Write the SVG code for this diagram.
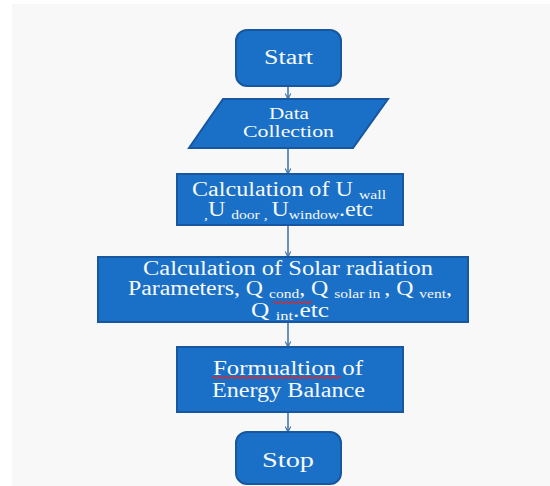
<svg xmlns="http://www.w3.org/2000/svg" width="550" height="486" viewBox="0 0 550 486">
<style>
.n{fill:#1a6fc6;stroke:#1657a0;stroke-width:2}
.t{font-family:"Liberation Serif",serif;font-size:20px;fill:#f6f9fd;text-anchor:middle}
.s{font-size:13px}
.c line{stroke:#3b6ea8;stroke-width:1.5;marker-end:url(#ah)}
.w{fill:none;stroke:#e02828;stroke-width:1.2}
</style>
<defs>
<marker id="ah" viewBox="0 0 10 10" refX="9" refY="5" markerWidth="7" markerHeight="7" orient="auto" markerUnits="userSpaceOnUse">
<path d="M1,1 L9,5 L1,9" fill="none" stroke="#3b6ea8" stroke-width="1.5"/>
</marker>
</defs>
<rect x="12" y="4" width="538" height="482" fill="#f8f8f8"/>
<g class="c" id="connectors">
<line x1="288" y1="86" x2="288" y2="99"/>
<line x1="288" y1="148" x2="288" y2="174"/>
<line x1="288" y1="225" x2="288" y2="257"/>
<line x1="288" y1="322" x2="288" y2="347"/>
<line x1="288" y1="412" x2="288" y2="432"/>
</g>
<g id="start">
<rect class="n" x="236" y="30" width="105" height="56" rx="11"/>
<text class="t" x="288.5" y="64" textLength="49" lengthAdjust="spacingAndGlyphs">Start</text>
</g>
<g id="data">
<polygon class="n" points="223,99 388,99 353,148 189,148"/>
<text class="t" x="289" y="119" style="font-size:17px" textLength="40" lengthAdjust="spacingAndGlyphs">Data</text>
<text class="t" x="288.5" y="137" style="font-size:17px" textLength="91" lengthAdjust="spacingAndGlyphs">Collection</text>
</g>
<g id="calcU">
<rect class="n" x="177" y="174" width="226" height="51"/>
<text class="t" x="289" y="196" textLength="194" lengthAdjust="spacingAndGlyphs">Calculation of U <tspan class="s" dy="3">wall</tspan></text>
<text class="t" x="288.5" y="216" textLength="169" lengthAdjust="spacingAndGlyphs"><tspan class="s" dy="3">,</tspan><tspan dy="-3">U </tspan><tspan class="s" dy="3">door , </tspan><tspan dy="-3">U</tspan><tspan class="s" dy="3">window</tspan><tspan dy="-3">.etc</tspan></text>
</g>
<g id="calcQ">
<rect class="n" x="98" y="257" width="370" height="65"/>
<text class="t" x="288" y="275" textLength="290" lengthAdjust="spacingAndGlyphs">Calculation of Solar radiation</text>
<text class="t" x="290" y="295" textLength="324" lengthAdjust="spacingAndGlyphs">Parameters, Q <tspan class="s" dy="3">cond</tspan><tspan dy="-3">, Q </tspan><tspan class="s" dy="3">solar in </tspan><tspan dy="-3">, Q </tspan><tspan class="s" dy="3">vent</tspan><tspan dy="-3">,</tspan></text>
<text class="t" x="290" y="317" textLength="78" lengthAdjust="spacingAndGlyphs">Q <tspan class="s" dy="3">int</tspan><tspan dy="-3">.etc</tspan></text>
<path class="w" d="M273,302.5 q1.5,-1.6 3,0 t3,0 t3,0 t3,0 t3,0 t3,0 t3,0 t3,0 t3,0 t3,0 t3,0 t3,0 t3,0"/>
</g>
<g id="formulation">
<rect class="n" x="177" y="347" width="226" height="65"/>
<text class="t" x="288" y="375" textLength="150" lengthAdjust="spacingAndGlyphs">Formualtion of</text>
<text class="t" x="288.5" y="397" textLength="153" lengthAdjust="spacingAndGlyphs">Energy Balance</text>
<path class="w" d="M212,377.5 q1.5,-1.6 3,0 t3,0 t3,0 t3,0 t3,0 t3,0 t3,0 t3,0 t3,0 t3,0 t3,0 t3,0 t3,0 t3,0 t3,0 t3,0 t3,0 t3,0 t3,0 t3,0 t3,0 t3,0 t3,0 t3,0 t3,0 t3,0 t3,0 t3,0 t3,0 t3,0 t3,0 t3,0 t3,0 t3,0 t3,0 t3,0 t3,0 t3,0 t3,0 t3,0 t3,0 t3,0 t3,0"/>
</g>
<g id="stop">
<rect class="n" x="236" y="432" width="105" height="52" rx="11"/>
<text class="t" x="288" y="467" textLength="52" lengthAdjust="spacingAndGlyphs">Stop</text>
</g>
</svg>
